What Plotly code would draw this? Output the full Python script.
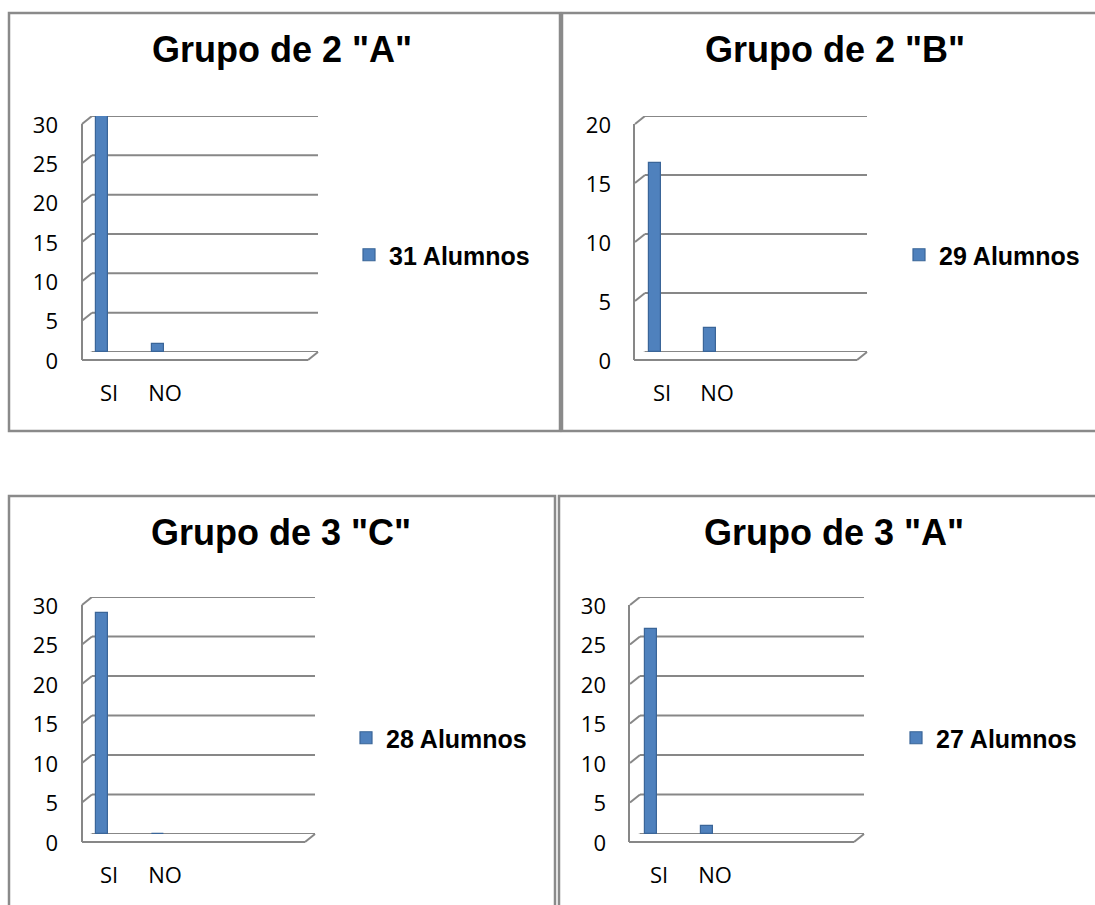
import plotly.graph_objects as go

W, H = 1095, 905

# ---------------- data ----------------
categories = ["SI", "NO"]
titles = ['Grupo de 2 "A"', 'Grupo de 2 "B"', 'Grupo de 3 "C"', 'Grupo de 3 "A"']
series_names = ["31 Alumnos", "29 Alumnos", "28 Alumnos", "27 Alumnos"]
values_2A = [30, 1]
values_2B = [16, 2]
values_3C = [28, 0]
values_3A = [26, 1]
y_max = [30, 20, 30, 30]
y_step = 5
all_values = [values_2A, values_2B, values_3C, values_3A]

# ---------------- layout geometry (pixels) ----------------
panels = [
    dict(box=(9, 13, 560, 431), front=82, back=92, right=318, top=116, bottom=352,
         bar=102, step=56, lshift=7, title=(282, 50), legend=(349, 255)),
    dict(box=(562, 13, 1115, 431), front=634, back=645, right=867, top=116, bottom=352,
         bar=655, step=55, lshift=7, title=(835, 50), legend=(899, 255)),
    dict(box=(9, 496, 555, 925), front=82, back=92, right=315, top=597, bottom=834,
         bar=102, step=56, lshift=7, title=(281, 532), legend=(346, 738)),
    dict(box=(559, 496, 1115, 925), front=629, back=640, right=864, top=597, bottom=834,
         bar=651, step=56, lshift=8, title=(834, 532), legend=(896, 738)),
]
DX, DY = 10, 8
BAR_PX = 12
GRID = "#878787"
BAR_COLOR = "#4F81BD"
TICK_FONT = dict(family="Open Sans, DejaVu Sans, sans-serif", size=22, color="#000000")
TITLE_FONT = dict(family="Liberation Sans, Arial, sans-serif", size=36, color="#000000",
                  weight="bold")
LEG_FONT = dict(family="Liberation Sans, Arial, sans-serif", size=25, color="#000000",
                weight="bold")


def px(x):
    return x / W


def py(y):
    return 1 - y / H


fig = go.Figure()
shapes = []
annotations = []
layout = dict(width=W, height=H,
              margin=dict(l=0, r=0, t=0, b=0, pad=0, autoexpand=False),
              paper_bgcolor="white", plot_bgcolor="white", showlegend=True,
              bargap=0)

for i, p in enumerate(panels):
    k = "" if i == 0 else str(i + 1)
    xname, yname = "x" + k, "y" + k
    legname = "legend" + k
    r0 = -(p["bar"] - p["back"]) / p["step"]
    r1 = r0 + (p["right"] - p["back"]) / p["step"]

    fig.add_trace(go.Bar(
        x=categories, y=all_values[i], name=series_names[i],
        xaxis=xname, yaxis=yname, legend=legname,
        width=BAR_PX / p["step"],
        marker=dict(color=BAR_COLOR, line=dict(color="#3A6598", width=1.2)),
        showlegend=True,
    ))

    layout["xaxis" + k] = dict(
        domain=[px(p["back"]), px(p["right"])], anchor=yname,
        type="category", range=[r0, r1], showgrid=False, zeroline=False,
        showline=False, ticks="", tickfont=TICK_FONT, automargin=False,
        ticklabelshift=p["lshift"], ticklabelstandoff=26, fixedrange=True,
    )
    layout["yaxis" + k] = dict(
        domain=[py(p["bottom"]), py(p["top"])], anchor=xname,
        range=[0, y_max[i]], tick0=0, dtick=y_step, showgrid=False,
        zeroline=False, showline=False, ticks="", automargin=False,
        tickfont=TICK_FONT, ticklabelshift=9, ticklabelstandoff=33, fixedrange=True,
    )
    layout[legname] = dict(
        x=px(p["legend"][0]), y=py(p["legend"][1]), xanchor="left", yanchor="middle",
        font=LEG_FONT, bgcolor="rgba(0,0,0,0)", borderwidth=0, itemwidth=30,
    )

    # panel border
    x0, y0, x1, y1 = p["box"]
    shapes.append(dict(type="rect", xref="paper", yref="paper",
                       x0=px(x0), x1=px(x1), y0=py(y1), y1=py(y0),
                       line=dict(color="#8A8A8A", width=2.5), layer="below"))

    # gridlines on the back wall plus pseudo-3D diagonals at each tick
    v = 0
    while v <= y_max[i]:
        shapes.append(dict(type="line", xref=xname + " domain", yref=yname,
                           x0=0, x1=1, y0=v, y1=v, layer="below",
                           line=dict(color=GRID, width=2)))
        shapes.append(dict(type="line", xref=xname + " domain", yref=yname,
                           xsizemode="pixel", xanchor=0, x0=-DX, x1=0,
                           ysizemode="pixel", yanchor=v, y0=-DY, y1=0, layer="below",
                           line=dict(color=GRID, width=2)))
        v += y_step

    # front wall edge and floor front edge
    fx = p["front"]
    shapes.append(dict(type="line", xref="paper", yref="paper",
                       x0=px(fx), x1=px(fx), y0=py(p["top"] + DY), y1=py(p["bottom"] + DY),
                       line=dict(color=GRID, width=2)))
    shapes.append(dict(type="line", xref="paper", yref="paper",
                       x0=px(fx), x1=px(p["right"] - DX), y0=py(p["bottom"] + DY),
                       y1=py(p["bottom"] + DY), line=dict(color=GRID, width=2)))
    shapes.append(dict(type="line", xref="paper", yref="paper",
                       x0=px(p["right"] - DX), x1=px(p["right"]), y0=py(p["bottom"] + DY),
                       y1=py(p["bottom"]), line=dict(color=GRID, width=2)))

    annotations.append(dict(text=titles[i], xref="paper", yref="paper",
                            x=px(p["title"][0]), y=py(p["title"][1]),
                            xanchor="center", yanchor="middle", showarrow=False,
                            font=TITLE_FONT))

layout["shapes"] = shapes
layout["annotations"] = annotations
fig.update_layout(**layout)
fig.write_html("out.html", config={"displayModeBar": False},
               post_script="document.body.style.margin='0px';")
